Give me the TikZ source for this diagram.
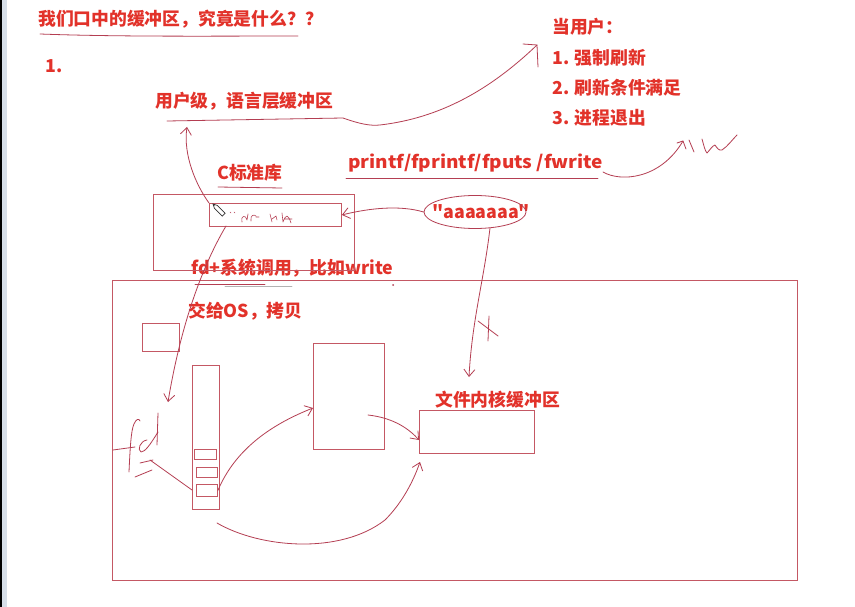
\documentclass[tikz,border=0pt]{standalone}
\usepackage{fontspec}
\newfontfamily\cjk{Noto Sans CJK SC}
\newfontfamily\cjkwide[FakeStretch=1.08]{Noto Sans CJK SC}
\usetikzlibrary{arrows.meta,shapes.geometric}
\definecolor{tred}{RGB}{226,50,42}
\definecolor{pen}{RGB}{180,62,82}
\definecolor{boxc}{RGB}{196,88,100}
\definecolor{edgeblue}{RGB}{214,222,232}
\tikzset{
  lbl/.style={text=tred,font=\cjk\bfseries\fontsize{17.8}{20}\selectfont,anchor=west,inner sep=0pt},
  lblw/.style={lbl,font=\cjkwide\bfseries\fontsize{17.6}{20}\selectfont},
  stroke/.style={draw=pen,line width=0.8pt,line cap=round,line join=round},
  boxn/.style={draw=boxc,line width=0.9pt,inner sep=0pt,anchor=north west},
  barb/.style={-{Straight Barb[length=7pt,width=11pt,line width=0.8pt]}},
}
\begin{document}
\begin{tikzpicture}[x=1pt,y=-1pt]
\useasboundingbox (0,0) rectangle (855,607);
\fill[white] (0,0) rectangle (855,607);
% window edge
\fill[edgeblue] (2,0) rectangle (7,607);
\fill[black] (0,0) rectangle (2,607);

% texts
\node[lbl] (title) at (38,19) {我们口中的缓冲区，究竟是什么？？};
\node[lbl] (one) at (45,66) {1.};
\node[lbl] (userlvl) at (155,101) {用户级，语言层缓冲区};
\node[lbl] (when) at (552,27) {当用户：};
\node[lbl] (f1) at (552,58) {1. 强制刷新};
\node[lbl] (f2) at (552,88) {2. 刷新条件满足};
\node[lbl] (f3) at (552,118) {3. 进程退出};
\node[lblw] (printf) at (348,163) {printf/fprintf/fputs /fwrite};
\node[lbl] (clib) at (217,173) {C标准库};
\node[lbl] (aaa) at (432,212) {"aaaaaaa"};
\node[lbl] (fdsys) at (191,268) {fd+系统调用，比如write};
\node[lbl] (handover) at (188,311) {交给OS，拷贝};
\node[lbl] (kernel) at (435,400) {文件内核缓冲区};

% boxes
\node[boxn,minimum width=201pt,minimum height=76pt] (cbox) at (153,194) {};
\node[boxn,minimum width=132pt,minimum height=23pt] (inner) at (209,203) {};
\node[boxn,minimum width=685pt,minimum height=300pt] (os) at (112,280) {};
\node[boxn,minimum width=37pt,minimum height=28pt] (small) at (142,323) {};
\node[boxn,minimum width=27pt,minimum height=144pt] (tall) at (192,365) {};
\node[boxn,minimum width=22pt,minimum height=10pt] (s1) at (194,449) {};
\node[boxn,minimum width=21pt,minimum height=10pt] (s2) at (196,467) {};
\node[boxn,minimum width=21pt,minimum height=12pt] (s3) at (196,484) {};
\node[boxn,minimum width=71pt,minimum height=106pt] (mid) at (313,343) {};
\node[boxn,minimum width=115pt,minimum height=43pt] (kbox) at (419,410) {};

% ellipse around "aaaaaaa"
\node[draw=pen,line width=0.8pt,ellipse,minimum width=102pt,minimum height=33pt] (ell) at (475,212) {};

% underlines
\draw[stroke] (40,34) .. controls (120,37) and (220,36) .. (298,36);
\draw[stroke] (218,187) -- (282,188);
\draw[stroke] (346,178) -- (598,178);
\draw[stroke] (195,284) -- (265,284);
\draw[stroke,gray!60] (225,286) -- (292,286);

% user-level underline continuing into arrow to the list
\coordinate (ulstart) at (167,121);
\coordinate (ultip) at (537,45);
\draw[stroke] (ulstart) -- (343,118) .. controls (360,124) and (370,126) .. (380,125)
  .. controls (440,118) and (490,90) .. (ultip);
\draw[stroke] (523,44) -- (ultip) -- (538,67);

% printf arrow + scribble
\coordinate (pfstart) at (603,172);
\coordinate (pftip) at (683,141);
\draw[stroke] (pfstart) .. controls (620,182) and (660,180) .. (pftip);
\draw[stroke] (677,143) -- (pftip) -- (686,149);
\draw[stroke] (689,140) -- (694,152);
\draw[stroke] (702,139) .. controls (704,146) and (705,151) .. (707,153)
  .. controls (710,150) and (712,146) .. (715,145) .. controls (717,148) and (719,151) .. (722,150)
  .. controls (728,146) and (732,140) .. (737,135);

% aaa -> inner box
\draw[stroke,barb] (ell.west) .. controls (400,205) and (370,208) .. (inner.east);

% aaa -> kernel (crossed)
\coordinate (ktip) at (469,377);
\draw[stroke,barb] (490,228) .. controls (484,280) and (472,320) .. (ktip);
\draw[stroke] (478,321) -- (498,336);
\draw[stroke] (489,316) -- (488,341);

% inner box -> user-level label
\coordinate (ulup) at (187,127);
\draw[stroke,barb] (inner.north west) .. controls (196,185) and (183,155) .. (ulup);

% inner box -> fd (down)
\coordinate (fddown) at (168,402);
\draw[stroke,barb] (226,226) .. controls (200,270) and (180,330) .. (fddown);

% handwritten fd
\draw[stroke] (129,472) .. controls (130,450) and (131,430) .. (134,424) .. controls (136,419) and (139,418) .. (140,421);
\draw[stroke] (113,450) -- (135,447);
\draw[stroke] (147,440) .. controls (140,441) and (137,450) .. (141,452) .. controls (145,452) and (150,445) .. (158,432);
\draw[stroke] (158,413) -- (157,445);
\draw[stroke] (140,463) -- (153,460);
\draw[stroke] (135,477) -- (152,470);
\draw[stroke] (150,460) -- (tall.west |- 490,490);

% tall stack -> mid box
\draw[stroke,barb] (s3.east) .. controls (235,450) and (270,425) .. (mid.west |- 0,408);

% mid -> kernel
\draw[stroke,barb] (368,415) .. controls (395,418) and (410,430) .. (kbox.west |- 0,440);

% bottom long arrow
\coordinate (kup) at (420,462);
\draw[stroke,barb] (217,523) .. controls (260,548) and (340,555) .. (385,520)
  .. controls (400,505) and (412,485) .. (kup);

% pencil cursor and scribbles in inner box
\begin{scope}[shift={(218,209)},rotate=-45]
  \draw[fill=white,draw=black!80,line width=0.7pt] (-3,-2) -- (8,-2) -- (8,2) -- (-3,2) -- (-7,0) -- cycle;
  \fill[black!80] (-7,0) -- (-5,-1) -- (-5,1) -- cycle;
\end{scope}
\draw[stroke,line width=0.5pt] (230,212) -- (231,213) (234,212) -- (235,213);
\draw[stroke,line width=0.6pt] (242,222) .. controls (240,216) and (246,214) .. (247,220) -- (248,214);
\draw[stroke,line width=0.6pt] (251,221) .. controls (250,215) and (254,214) .. (256,216) (256,217) -- (259,217);
\draw[stroke,line width=0.6pt] (270,214) -- (272,222) (272,219) -- (276,216) -- (277,220);
\draw[stroke,line width=0.6pt] (282,213) -- (283,222) .. controls (286,214) and (288,214) .. (291,223) (285,219) -- (292,219);

% stray dot
\fill[pen] (393,285) circle (1pt);
\end{tikzpicture}
\end{document}
